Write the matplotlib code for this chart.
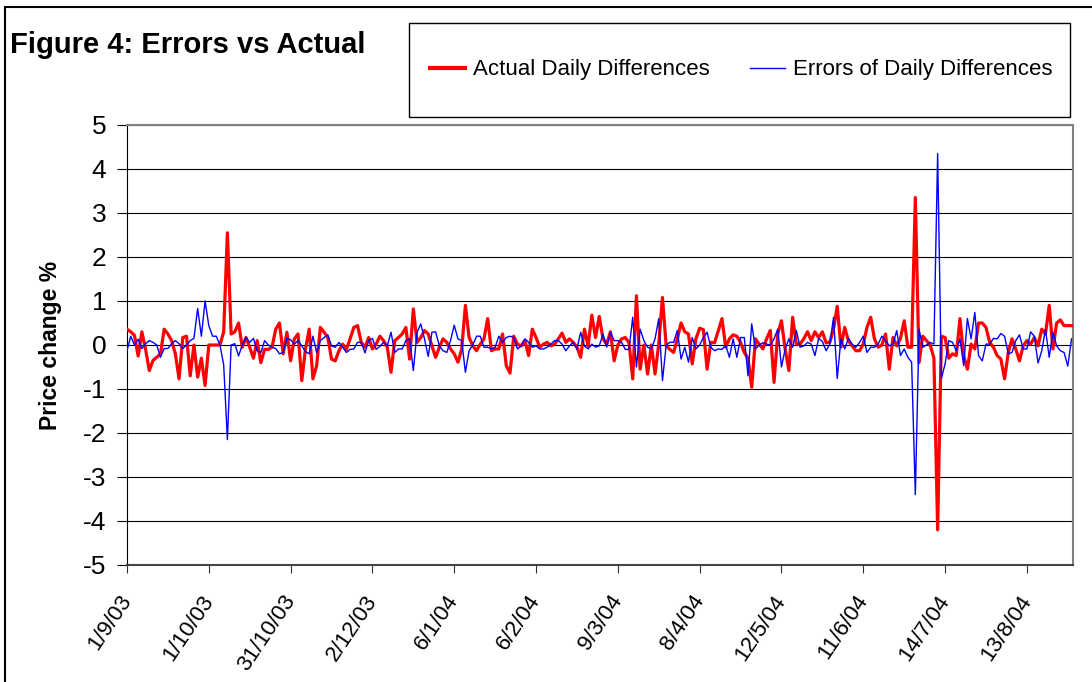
"""Figure 4: errors vs actual daily price differences (Excel-style line chart)."""

import matplotlib

matplotlib.use("Agg")

import matplotlib.pyplot as plt
from matplotlib.lines import Line2D
from matplotlib.patches import Rectangle

plt.rcParams["font.family"] = ["Liberation Sans", "DejaVu Sans"]

# tick labels every 22 trading days
tick_labels = [
    "1/9/03", "1/10/03", "31/10/03", "2/12/03", "6/1/04", "6/2/04",
    "9/3/04", "8/4/04", "12/5/04", "11/6/04", "14/7/04", "13/8/04",
]
tick_step = 22

# actual daily differences (%)
actual = [
    0.36, 0.30, 0.22, -0.25, 0.30, -0.10, -0.58, -0.35, -0.28, -0.20,
    0.36, 0.25, 0.10, -0.20, -0.77, 0.17, 0.20, -0.70, 0.00, -0.73,
    -0.30, -0.92, 0.00, 0.00, 0.00, 0.00, 0.30, 2.55, 0.25, 0.30,
    0.50, -0.05, 0.17, -0.05, -0.30, 0.10, -0.40, -0.10, -0.10, -0.05,
    0.36, 0.50, -0.20, 0.29, -0.36, 0.14, 0.25, -0.81, -0.09, 0.36,
    -0.77, -0.47, 0.40, 0.29, 0.17, -0.32, -0.36, -0.13, 0.02, -0.10,
    0.14, 0.40, 0.44, 0.06, -0.05, 0.17, -0.09, 0.02, 0.20, 0.10,
    -0.05, -0.62, 0.10, 0.17, 0.25, 0.40, -0.32, 0.82, 0.06, 0.17,
    0.33, 0.25, -0.02, -0.28, -0.05, 0.14, 0.06, -0.09, -0.20, -0.39,
    -0.10, 0.90, 0.17, -0.02, -0.13, 0.02, 0.14, 0.60, -0.13, -0.09,
    -0.09, 0.25, -0.47, -0.64, 0.20, 0.02, -0.02, 0.10, -0.24, 0.36,
    0.17, -0.05, 0.02, 0.06, -0.02, 0.02, 0.14, 0.27, 0.06, 0.14,
    0.06, -0.05, -0.28, 0.36, -0.02, 0.68, 0.17, 0.65, 0.14, 0.02,
    0.30, -0.36, 0.00, 0.14, 0.17, 0.05, -0.77, 1.12, -0.55, 0.00,
    -0.66, 0.00, -0.66, 0.02, 1.08, -0.02, -0.10, -0.17, 0.14, 0.50,
    0.30, 0.25, -0.43, 0.14, 0.38, 0.35, -0.55, 0.06, 0.05, 0.32,
    0.60, -0.05, 0.14, 0.23, 0.20, 0.06, -0.17, -0.30, -0.96, 0.14,
    0.02, -0.09, 0.14, 0.33, -0.85, 0.25, 0.55, -0.10, -0.58, 0.63,
    0.02, 0.02, 0.14, 0.30, 0.10, 0.30, 0.17, 0.30, 0.05, 0.06,
    0.36, 0.88, -0.05, 0.40, 0.10, -0.02, -0.13, -0.13, 0.02, 0.40,
    0.63, 0.14, -0.05, 0.00, 0.25, -0.55, 0.17, -0.02, 0.15, 0.55,
    -0.05, -0.05, 3.35, -0.40, 0.20, 0.10, 0.00, -0.30, -4.20, 0.20,
    0.17, -0.30, -0.20, -0.24, 0.60, -0.24, -0.55, 0.02, -0.09, 0.50,
    0.50, 0.40, 0.06, -0.05, -0.24, -0.32, -0.77, -0.17, 0.14, -0.09,
    -0.36, -0.02, 0.10, 0.02, 0.17, -0.02, 0.36, 0.25, 0.90, -0.09,
    0.50, 0.57, 0.44, 0.44, 0.44,
]

# forecast errors of daily differences (%)
errors = [
    -0.13, 0.20, 0.00, 0.13, -0.08, 0.03, 0.10, 0.06, 0.00, -0.28,
    -0.08, -0.08, 0.03, 0.10, 0.03, -0.08, 0.00, 0.10, 0.15, 0.83,
    0.20, 1.00, 0.44, 0.20, 0.20, 0.00, -0.45, -2.15, 0.00, 0.03,
    -0.25, 0.00, 0.17, 0.06, 0.15, -0.13, -0.17, 0.10, 0.00, -0.05,
    -0.08, -0.20, -0.17, 0.15, 0.12, 0.02, 0.10, -0.02, -0.15, -0.20,
    0.20, -0.17, 0.10, 0.17, 0.23, -0.02, -0.05, 0.06, -0.05, -0.17,
    -0.10, -0.09, 0.06, 0.06, -0.18, 0.10, 0.15, -0.10, -0.03, 0.06,
    -0.02, 0.29, -0.17, -0.09, -0.09, 0.10, 0.15, -0.58, 0.29, 0.48,
    0.14, -0.26, 0.29, 0.30, -0.02, -0.13, -0.17, 0.10, 0.45, 0.14,
    0.10, -0.62, -0.13, 0.00, 0.20, 0.20, -0.05, -0.05, -0.09, -0.05,
    0.20, 0.06, 0.17, 0.20, 0.17, -0.09, -0.02, 0.14, 0.06, -0.05,
    -0.02, -0.09, -0.09, -0.05, 0.02, 0.10, 0.10, 0.02, -0.13, -0.02,
    0.06, -0.09, 0.29, -0.02, -0.09, 0.02, -0.05, -0.02, 0.25, -0.05,
    0.29, 0.10, 0.10, 0.06, -0.10, -0.10, 0.63, -0.50, 0.36, 0.10,
    -0.05, -0.09, 0.14, 0.60, -0.81, 0.00, 0.06, 0.06, 0.33, -0.32,
    -0.05, -0.39, 0.17, -0.09, 0.00, 0.17, 0.29, -0.05, -0.13, -0.09,
    -0.10, 0.00, -0.28, 0.14, -0.28, 0.17, 0.17, -0.70, 0.48, -0.09,
    0.00, 0.05, 0.02, 0.00, 0.14, 0.36, -0.50, -0.09, 0.14, -0.05,
    0.33, -0.05, -0.02, 0.06, 0.02, -0.24, 0.15, 0.08, -0.13, 0.02,
    0.63, -0.76, 0.14, -0.09, 0.15, 0.02, -0.05, 0.06, 0.20, -0.17,
    -0.05, -0.05, 0.02, 0.20, 0.10, -0.02, 0.02, 0.33, -0.24, -0.09,
    -0.28, -0.39, -3.40, 0.36, -0.05, 0.00, 0.06, 0.02, 4.35, -0.76,
    -0.43, 0.10, 0.06, -0.13, 0.14, -0.47, 0.60, 0.14, 0.74, -0.24,
    -0.36, 0.02, 0.02, 0.15, 0.14, 0.26, 0.20, -0.20, -0.17, 0.10,
    0.23, -0.09, -0.09, 0.30, 0.20, -0.41, -0.13, 0.36, -0.28, 0.29,
    -0.02, -0.13, -0.17, -0.48, 0.14,
]

y_ticks = list(range(-5, 6))

W, H = 1092, 682
fig = plt.figure(figsize=(W / 100, H / 100), dpi=100)

# outer chart frame (runs off the right and bottom edges)
fig.patches.append(
    Rectangle((5 / W, -0.1), 1.2, 1.1 - 7 / H, transform=fig.transFigure,
              fill=False, edgecolor="black", lw=1.5)
)

ax = fig.add_axes([127 / W, 1 - 565 / H, (1073 - 127) / W, (565 - 125) / H])

x = list(range(len(actual)))
ax.plot(x, actual, color="#ff0000", lw=2.3, solid_joinstyle="round", zorder=3)
ax.plot(x, errors, color="#0000ff", lw=1.0, zorder=4)

ax.set_xlim(0, len(actual) - 0.6)
ax.set_ylim(-5, 5)
ax.set_yticks(y_ticks)
ax.set_yticklabels([str(v) for v in y_ticks], fontsize=19)
ax.yaxis.grid(True, color="black", lw=0.8)
ax.set_axisbelow(True)

ax.set_xticks(range(0, len(actual), tick_step))
ax.set_xticklabels(tick_labels, rotation=56, ha="right", va="center",
                   rotation_mode="anchor", fontsize=16)
ax.tick_params(axis="x", length=6, pad=17, color="#333333")
ax.tick_params(axis="y", length=7, pad=8, color="black")

for side in ("top", "right"):
    ax.spines[side].set_color("#808080")
    ax.spines[side].set_linewidth(1.5)
ax.spines["left"].set_color("black")
ax.spines["bottom"].set_color("#444444")
ax.spines["bottom"].set_linewidth(1.5)

ax.set_ylabel("Price change %", fontsize=16.5, fontweight="bold", labelpad=15)

fig.text(10 / W, 1 - 45 / H, "Figure 4: Errors vs Actual", fontsize=21,
         fontweight="bold", va="center", ha="left")

# legend box
fig.patches.append(
    Rectangle((409 / W, 1 - 117 / H), (1070 - 409) / W, (117 - 23) / H,
              transform=fig.transFigure, fill=False, edgecolor="black", lw=1)
)
handles = [
    Line2D([], [], color="#ff0000", lw=3),
    Line2D([], [], color="#0000ff", lw=1),
]
fig.legend(handles, ["Actual Daily Differences", "Errors of Daily Differences"],
           loc="center", bbox_to_anchor=(741 / W, 1 - 70 / H), ncol=2,
           frameon=False, fontsize=16, handlelength=1.6, handletextpad=0.35,
           columnspacing=1.8)

fig.savefig("out.png", dpi=100)
